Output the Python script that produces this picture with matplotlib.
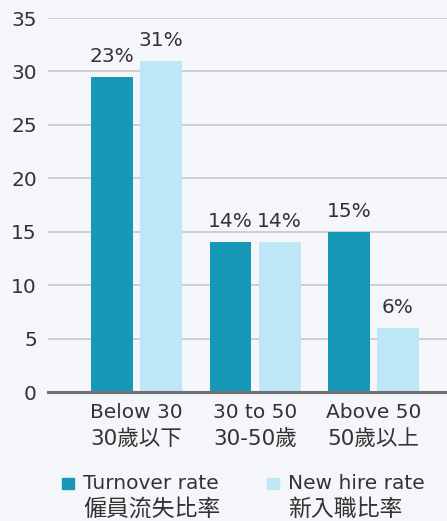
import matplotlib.pyplot as plt
import numpy as np
from matplotlib.patches import Rectangle

# data
cats_en = ["Below 30", "30 to 50", "Above 50"]
cats_zh = ["30歲以下", "30-50歲", "50歲以上"]
turnover = [29.5, 14, 15]
new_hire = [31, 14, 6]
turnover_labels = ["23%", "14%", "15%"]
new_hire_labels = ["31%", "14%", "6%"]
names_en = ["Turnover rate", "New hire rate"]
names_zh = ["僱員流失比率", "新入職比率"]

dark = "#1797b8"
light = "#bde6f7"
bg = "#f5f6f9"
txt = "#333333"

plt.rcParams["font.family"] = ["DejaVu Sans", "Noto Sans CJK TC"]
plt.rcParams["font.size"] = 14.5

W, H = 447, 521
fig = plt.figure(figsize=(W / 100, H / 100), dpi=100, facecolor=bg)
ax = fig.add_axes([48 / W, 129 / H, 1 - 48 / W, 374 / H])
ax.set_facecolor(bg)

x = np.arange(len(cats_en))
w = 0.354
b1 = ax.bar(x - 0.207, turnover, w, color=dark, zorder=3)
b2 = ax.bar(x + 0.207, new_hire, w, color=light, zorder=3)
ax.bar_label(b1, labels=turnover_labels, padding=8, color=txt)
ax.bar_label(b2, labels=new_hire_labels, padding=8, color=txt)

ax.set_xlim(-0.747, 2.62)
ax.set_ylim(0, 35)
ax.set_yticks(range(0, 36, 5))
ax.set_xticks(x)
ax.set_xticklabels(cats_en, color=txt)
ax.tick_params(axis="y", length=0, pad=8, labelcolor=txt)
ax.tick_params(axis="x", length=0, pad=8)
ax.grid(axis="y", color="#c8c8c8", linewidth=1.2, zorder=0)
for s in ["top", "right", "left"]:
    ax.spines[s].set_visible(False)
ax.spines["bottom"].set_color("#707070")
ax.spines["bottom"].set_linewidth(2.2)
ax.spines["bottom"].set_zorder(4)

# second (Chinese) line of each category label, set a little larger
for xi, lab in zip(x, cats_zh):
    ax.annotate(lab, xy=(xi, 0), xycoords=("data", "axes fraction"),
                xytext=(0, -53), textcoords="offset pixels",
                ha="center", va="baseline", fontsize=15.5, color=txt)

# legend drawn by hand so the swatch lines up with the first text line
for xs, col, en, zh in [(62, dark, names_en[0], names_zh[0]),
                        (267, light, names_en[1], names_zh[1])]:
    fig.add_artist(Rectangle((xs / W, 1 - 489 / H), 12 / W, 11 / H,
                             transform=fig.transFigure, color=col))
    fig.text((xs + 21) / W, 1 - 489 / H, en, color=txt, va="baseline")
    fig.text((xs + 21) / W, 1 - 516 / H, zh, color=txt, va="baseline",
             fontsize=16.5)

fig.savefig("out.png", dpi=100, facecolor=bg)
